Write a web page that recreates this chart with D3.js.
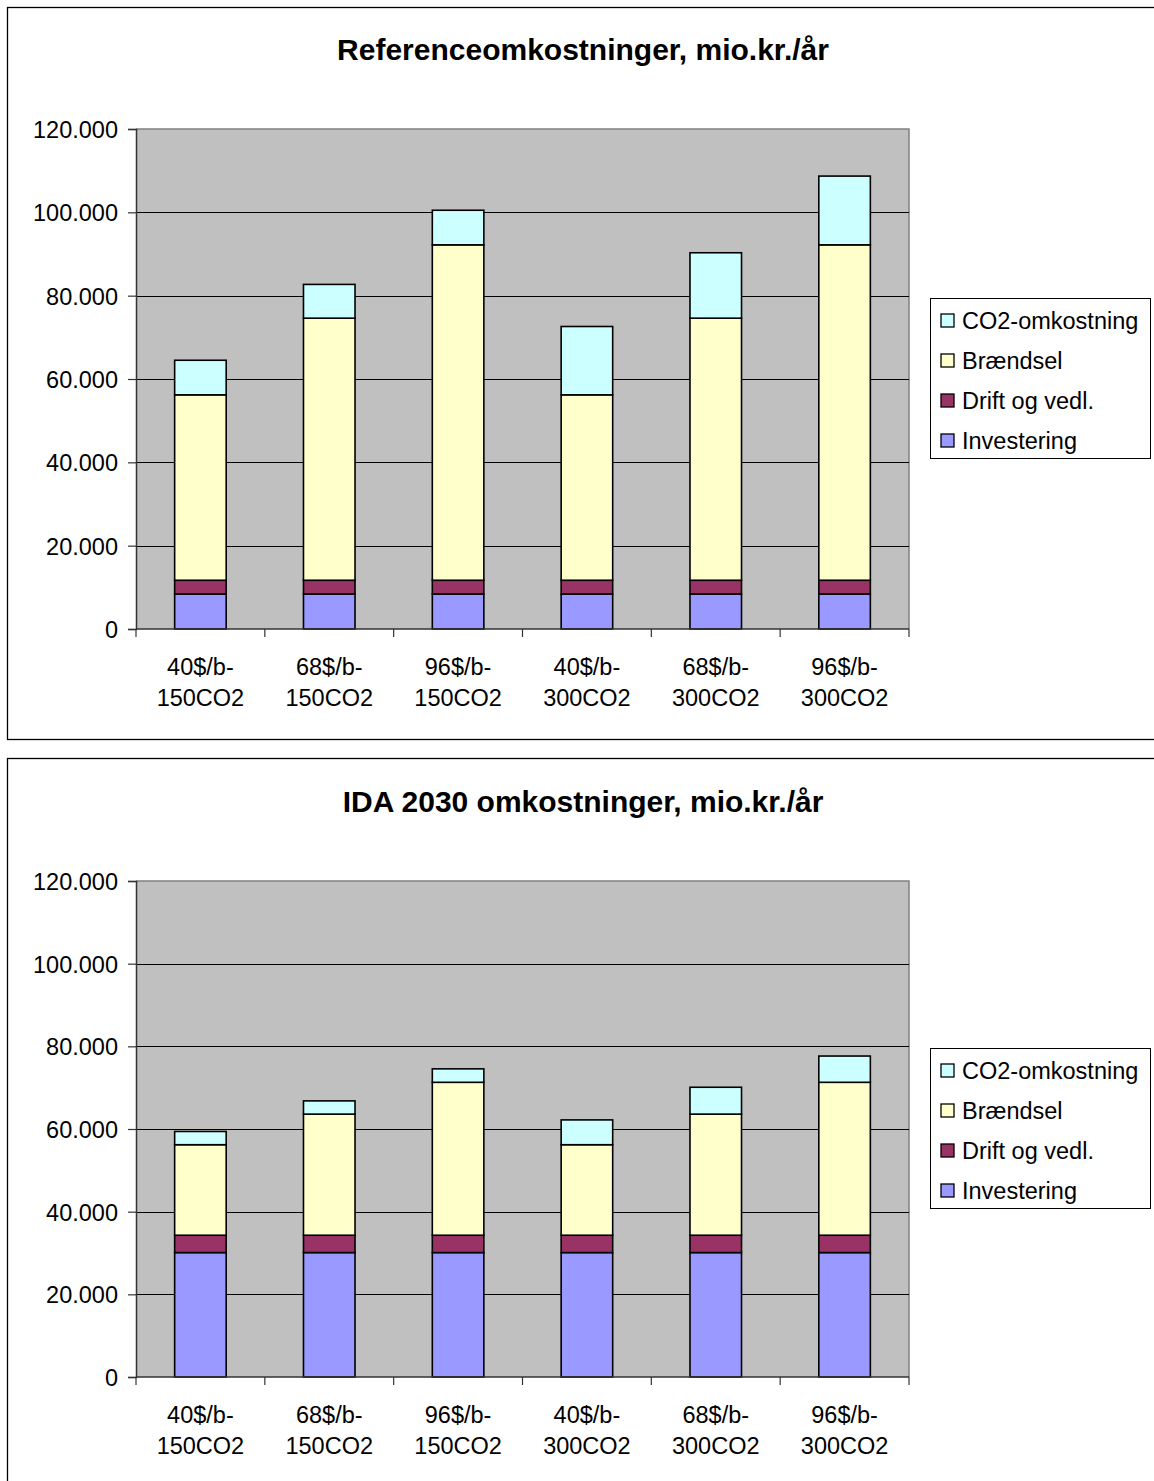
<!DOCTYPE html>
<html>
<head>
<meta charset="utf-8">
<script src="https://cdn.jsdelivr.net/npm/d3@7"></script>
<style>
  body { margin: 0; background: #fff; }
  svg { display: block; font-family: "Liberation Sans", Arial, sans-serif; }
</style>
</head>
<body>
<svg id="chart" width="1154" height="1481"></svg>
<script>
// categories (two lines each)
const categories = [
  ["40$/b-", "150CO2"], ["68$/b-", "150CO2"], ["96$/b-", "150CO2"],
  ["40$/b-", "300CO2"], ["68$/b-", "300CO2"], ["96$/b-", "300CO2"]
];
const seriesNames = ["Investering", "Drift og vedl.", "Brændsel", "CO2-omkostning"];
const seriesColors = ["#9999ff", "#993366", "#ffffcc", "#ccffff"];
const yTicks = [0, 20000, 40000, 60000, 80000, 100000, 120000];

// Referenceomkostninger
const refInvestering = [8400, 8400, 8400, 8400, 8400, 8400];
const refDrift = [3300, 3300, 3300, 3300, 3300, 3300];
const refBraendsel = [44500, 62900, 80500, 44500, 62900, 80500];
const refCO2 = [8300, 8100, 8300, 16400, 15700, 16500];

// IDA 2030 omkostninger
const idaInvestering = [30100, 30100, 30100, 30100, 30100, 30100];
const idaDrift = [4200, 4200, 4200, 4200, 4200, 4200];
const idaBraendsel = [21900, 29300, 37000, 21900, 29300, 37000];
const idaCO2 = [3200, 3200, 3250, 6000, 6500, 6350];

const svg = d3.select("#chart");

function buildRows(inv, drift, fuel, co2) {
  return categories.map((c, i) => ({
    cat: c.join(" "),
    "Investering": inv[i],
    "Drift og vedl.": drift[i],
    "Brændsel": fuel[i],
    "CO2-omkostning": co2[i]
  }));
}

function drawChart(opt) {
  const g = svg.append("g");
  // frame
  g.append("rect")
    .attr("x", 7.5).attr("y", opt.frameTop + 0.5)
    .attr("width", 1200).attr("height", opt.frameHeight)
    .attr("fill", "#fff").attr("stroke", "#000").attr("stroke-width", 1.3);

  g.append("text")
    .attr("x", 583).attr("y", opt.titleY)
    .attr("text-anchor", "middle")
    .attr("font-size", 30).attr("font-weight", "bold")
    .text(opt.title);

  const left = 136, right = 909;
  const x = d3.scaleBand()
    .domain(categories.map(c => c.join(" ")))
    .range([left, right])
    .paddingInner(0.6).paddingOuter(0.3);
  const y = d3.scaleLinear().domain([0, 120000]).range([opt.plotBottom, opt.plotTop]);

  // plot area
  g.append("rect")
    .attr("x", left).attr("y", opt.plotTop)
    .attr("width", right - left).attr("height", opt.plotBottom - opt.plotTop)
    .attr("fill", "#c0c0c0");
  g.append("path")
    .attr("d", `M${left},${opt.plotTop}H${right}V${opt.plotBottom}`)
    .attr("fill", "none").attr("stroke", "#808080").attr("stroke-width", 1.5);

  // gridlines
  g.append("g").selectAll("line")
    .data(yTicks.filter(d => d > 0 && d < 120000))
    .join("line")
    .attr("x1", left).attr("x2", right)
    .attr("y1", d => Math.round(y(d)) + 0.5).attr("y2", d => Math.round(y(d)) + 0.5)
    .attr("stroke", "#000").attr("stroke-width", 1);

  // bars
  const rows = buildRows(...opt.data);
  const stack = d3.stack().keys(seriesNames)(rows);
  g.append("g").selectAll("g")
    .data(stack)
    .join("g")
    .attr("fill", (d, i) => seriesColors[i])
    .selectAll("rect")
    .data(d => d)
    .join("rect")
    .attr("x", d => x(d.data.cat))
    .attr("width", x.bandwidth())
    .attr("y", d => y(d[1]))
    .attr("height", d => y(d[0]) - y(d[1]))
    .attr("stroke", "#000").attr("stroke-width", 1.6);

  // y axis
  const yAxis = g.append("g")
    .attr("transform", `translate(${left},0)`)
    .call(d3.axisLeft(y).tickValues(yTicks).tickSize(8).tickPadding(10)
      .tickFormat(d => d3.format(",")(d).replace(/,/g, ".")));
  yAxis.select(".domain").attr("stroke", "#333").attr("stroke-width", 1.5);
  yAxis.selectAll(".tick line").attr("stroke", "#333").attr("stroke-width", 1.2);
  yAxis.selectAll(".tick text").attr("font-size", 23.5).attr("fill", "#000")
    .attr("font-family", "Liberation Sans, Arial, sans-serif").attr("dy", "0.36em");

  // x axis with ticks at category boundaries
  const step = x.step();
  const xg = g.append("g");
  xg.append("line")
    .attr("x1", left).attr("x2", right)
    .attr("y1", opt.plotBottom).attr("y2", opt.plotBottom)
    .attr("stroke", "#333").attr("stroke-width", 1.5);
  xg.selectAll("line.tk")
    .data(d3.range(categories.length + 1))
    .join("line").attr("class", "tk")
    .attr("x1", i => left + i * step).attr("x2", i => left + i * step)
    .attr("y1", opt.plotBottom).attr("y2", opt.plotBottom + 8)
    .attr("stroke", "#333").attr("stroke-width", 1.2);
  const lbl = xg.selectAll("text")
    .data(categories)
    .join("text")
    .attr("text-anchor", "middle")
    .attr("font-size", 23.5)
    .attr("x", c => x(c.join(" ")) + x.bandwidth() / 2);
  lbl.selectAll("tspan")
    .data(c => c)
    .join("tspan")
    .attr("x", function () { return d3.select(this.parentNode).attr("x"); })
    .attr("y", (d, i) => opt.plotBottom + 46 + i * 31)
    .text(d => d);

  // legend
  const lx = 930, ly = opt.legendTop;
  g.append("rect")
    .attr("x", lx + 0.5).attr("y", ly + 0.5).attr("width", 220).attr("height", 160)
    .attr("fill", "#fff").attr("stroke", "#000").attr("stroke-width", 1);
  const items = seriesNames.slice().reverse();
  const le = g.append("g").selectAll("g")
    .data(items)
    .join("g")
    .attr("transform", (d, i) => `translate(${lx + 11},${ly + 23 + i * 40})`);
  le.append("rect")
    .attr("x", 0).attr("y", -7).attr("width", 13).attr("height", 13)
    .attr("fill", d => seriesColors[seriesNames.indexOf(d)])
    .attr("stroke", "#000").attr("stroke-width", 1.3);
  le.append("text")
    .attr("x", 21).attr("y", 0).attr("dy", "0.36em")
    .attr("font-size", 23.5)
    .text(d => d);
}

drawChart({
  title: "Referenceomkostninger, mio.kr./år",
  frameTop: 7, frameHeight: 732, titleY: 60,
  plotTop: 129, plotBottom: 629, legendTop: 298,
  data: [refInvestering, refDrift, refBraendsel, refCO2]
});

drawChart({
  title: "IDA 2030 omkostninger, mio.kr./år",
  frameTop: 758, frameHeight: 800, titleY: 812,
  plotTop: 881, plotBottom: 1377, legendTop: 1048,
  data: [idaInvestering, idaDrift, idaBraendsel, idaCO2]
});
</script>
</body>
</html>
